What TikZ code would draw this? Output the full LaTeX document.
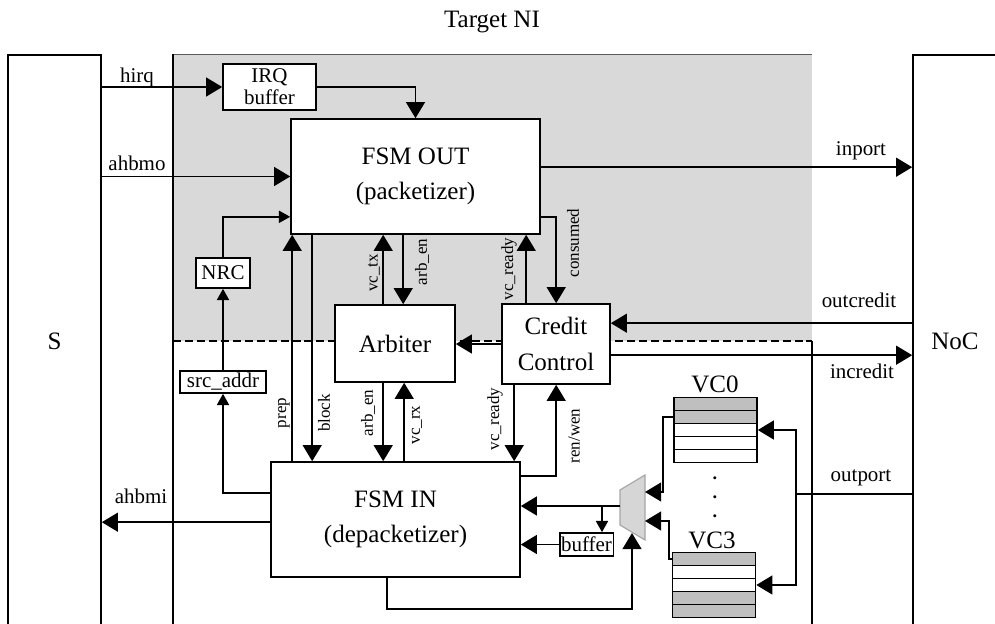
\documentclass[tikz,border=0pt]{standalone}
\usepackage{fontspec}
\setmainfont{Liberation Serif}
\usetikzlibrary{arrows.meta, calc}
\newcommand{\pxu}{0.025cm}
\definecolor{niGrey}{HTML}{D9D9D9}
\definecolor{niEdge}{HTML}{5A5A5A}
\definecolor{vcGrey}{HTML}{BFBFBF}
\definecolor{muxGrey}{HTML}{D6D6D6}
\definecolor{muxEdge}{HTML}{A6A6A6}
\tikzset{
  blk/.style={
    draw, line width=1.15pt, fill=white, inner sep=1pt, align=center,
    font=\fontsize{17.8pt}{25pt}\selectfont
  },
  sblk/.style={blk, font=\fontsize{14.9pt}{15.6pt}\selectfont},
  sz/.style 2 args={minimum width=#1*\pxu, minimum height=#2*\pxu},
  cell/.style={draw, line width=1.15pt, inner sep=0pt,
    minimum width=83*\pxu, minimum height=13*\pxu},
  sig/.style={-{Triangle[length=4mm, width=4.7mm]}, line width=1.15pt},
  sigs/.style={-{Triangle[length=2.8mm, width=3mm]}, line width=1.15pt},
  wire/.style={line width=1.15pt},
  lbl/.style={font=\fontsize{14.9pt}{16pt}\selectfont, inner sep=0pt, anchor=base},
  biglbl/.style={lbl, font=\fontsize{17.8pt}{20pt}\selectfont},
  vlbl/.style={font=\fontsize{12.1pt}{13pt}\selectfont, inner sep=0pt, rotate=90},
}

\begin{document}
\begin{tikzpicture}[x=\pxu, y=-\pxu]
  \useasboundingbox (0,0) rectangle (995,624);

  % target NI area
  \fill[niGrey] (173,54) rectangle (812,341);
  \draw[niEdge, line width=0.6pt] (173,54) -- (812,54);
  \draw[wire] (173,54) -- (173,630);
  \draw[wire] (812,341) -- (812,630);
  \draw[wire, dash pattern=on 5.7pt off 2.8pt] (173,341) -- (812,341);
  \node[biglbl, anchor=center] (title) at (492,22) {Target NI};

  \node[blk, sz={93}{572}] (s) at (54.5,341) {S};
  \node[blk, sz={84}{572}] (noc) at (955,341) {NoC};

  \node[blk, sz={249}{115}] (fsmout) at (415.5,176.5) {FSM OUT\\(packetizer)};
  \node[blk, sz={249}{115}] (fsmin) at (395.5,519.5) {FSM IN\\(depacketizer)};
  \node[blk, sz={120}{77}] (arbiter) at (395,343.5) {Arbiter};
  \node[blk, sz={108}{80}] (credit) at (556,344) {Credit\\Control};
  \node[sblk, sz={93}{46}] (irq) at (269.5,87) {IRQ\\buffer};
  \node[sblk, sz={54}{30}] (nrc) at (223,273) {NRC};
  \node[sblk, sz={86}{22}] (srcaddr) at (223,382) {src\_addr};
  \node[sblk, sz={53}{23}] (buf) at (586.5,544.5) {buffer};

  % virtual channel buffers
  \foreach \i/\c in {0/vcGrey,1/vcGrey,2/white,3/white,4/white}
    \node[cell, fill=\c] (vca\i) at (715.5,404+13*\i) {};
  \foreach \i/\c in {0/vcGrey,1/white,2/white,3/vcGrey,4/vcGrey}
    \node[cell, fill=\c] (vcb\i) at (714,559+13*\i) {};
  \node[biglbl] (vc0) at (715,392) {VC0};
  \node[biglbl] (vc3) at (712,548) {VC3};
  \node[font=\fontsize{13pt}{13.5pt}\selectfont\bfseries, align=center, inner sep=0pt]
    (dots) at (715,497) {.\\.\\.};

  % mux
  \draw[draw=muxEdge, fill=muxGrey, line width=0.8pt]
    (620,490) -- (645,475) -- (645,540) -- (620,525) -- cycle;
  \coordinate (muxa) at (645,492);
  \coordinate (muxb) at (645,521);
  \coordinate (muxo) at (620,506);
  \coordinate (muxc) at (632,533);
  \coordinate (brk) at (602,506);
  \coordinate (opj) at (796,494);

  % S side
  \draw[sig] (s.east |- irq.west) -- (irq.west);
  \draw[sig] (irq.east) -| (fsmout.north);
  \draw[sig] (s.east |- fsmout.west) -- (fsmout.west);
  \draw[sigs] (nrc.north) |- ($(fsmout.south west)+(0,-18)$);
  \draw[sigs] (srcaddr.north) -- (nrc.south);
  \draw[sigs] ($(fsmin.north west)+(0,32)$) -| (srcaddr.south);
  \draw[sig] ($(fsmin.north west)+(0,61)$) -- ($(s.east |- fsmin.north west)+(0,61)$);

  % between the FSMs
  \draw[sig] ($(fsmin.north west)+(22,0)$) -- ($(fsmout.south west)+(2,0)$);
  \draw[sig] ($(fsmout.south west)+(22,0)$) -- ($(fsmin.north west)+(42,0)$);
  \draw[sig] ($(arbiter.north west)+(49,0)$) -- ($(fsmout.south west)+(93,0)$);
  \draw[sig] ($(fsmout.south west)+(113,0)$) -- ($(arbiter.north west)+(69,0)$);
  \draw[sig] ($(arbiter.south west)+(49,0)$) -- ($(fsmin.north west)+(113,0)$);
  \draw[sig] ($(fsmin.north west)+(134,0)$) -- ($(arbiter.south west)+(70,0)$);
  \draw[sig] ($(credit.north west)+(25,0)$) -- ($(fsmout.south west)+(236,0)$);
  \draw[sig] ($(fsmout.north east)+(0,99)$) -| ($(credit.north west)+(55,0)$);
  \draw[sig] ($(credit.south west)+(13,0)$) -- ($(fsmin.north west)+(244,0)$);
  \draw[sig] ($(fsmin.north east)+(0,15)$) -| ($(credit.south west)+(55,0)$);
  \draw[sig] (credit.west) -- (arbiter.east |- credit.west);

  % NoC side
  \draw[sig] ($(fsmout.north east)+(0,49)$) -- ($(noc.west |- fsmout.north east)+(0,49)$);
  \draw[sig] ($(noc.west |- credit.north east)+(0,20)$) -- ($(credit.north east)+(0,20)$);
  \draw[sig] ($(credit.north east)+(0,52)$) -- ($(noc.west |- credit.north east)+(0,52)$);
  \draw[wire] (noc.west |- opj) -- (opj);
  \draw[sig] (opj) |- (vca2.east);
  \draw[sig] (opj) |- (vcb2.east);

  % buffers to FSM IN
  \draw[sig] (vca1.west) -- ++(-10,0) |- (muxa);
  \draw[sig] (vcb0.west) -- ++(-3,0) |- (muxb);
  \draw[sig] (muxo) -- (fsmin.east |- muxo);
  \draw[sigs] (brk) -- (brk |- buf.north);
  \draw[sig] (buf.west) -- (fsmin.east |- buf.west);
  \draw[sig] ($(fsmin.south west)+(117,0)$) -- ++(0,31) -| (muxc);

  % labels
  \node[lbl] (hirqL) at (137,83) {hirq};
  \node[lbl] (ahbmoL) at (137,171) {ahbmo};
  \node[lbl] (ahbmiL) at (141,503) {ahbmi};
  \node[lbl] (inportL) at (861,155) {inport};
  \node[lbl] (outcreditL) at (859,307) {outcredit};
  \node[lbl] (increditL) at (862,378) {incredit};
  \node[lbl] (outportL) at (861,481) {outport};
  \node[vlbl] (prepL) at (284,413) {prep};
  \node[vlbl] (blockL) at (324,413) {block};
  \node[vlbl] (vctxL) at (374,273) {vc\_tx};
  \node[vlbl] (arbenL) at (422,262) {arb\_en};
  \node[vlbl] (arbenbL) at (368,413) {arb\_en};
  \node[vlbl] (vcrxL) at (417,425) {vc\_rx};
  \node[vlbl] (vcreadyL) at (509,269) {vc\_ready};
  \node[vlbl] (consumedL) at (573,243) {consumed};
  \node[vlbl] (vcreadybL) at (495,419) {vc\_ready};
  \node[vlbl] (renwenL) at (574,436) {ren/wen};
\end{tikzpicture}
\end{document}
